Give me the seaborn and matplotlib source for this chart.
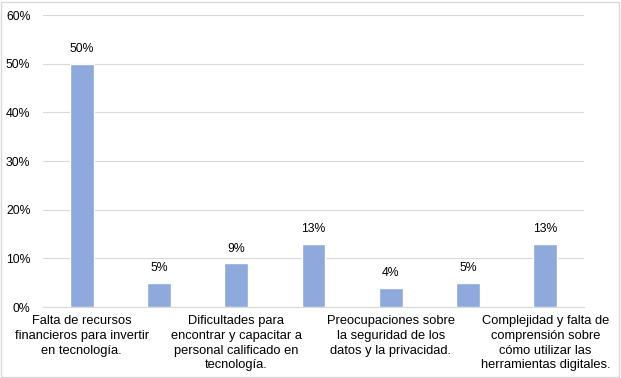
import matplotlib
matplotlib.use("Agg")
import matplotlib.pyplot as plt
import seaborn as sns
import pandas as pd
from matplotlib.patches import Rectangle

categories = [
    "Falta de recursos\nfinancieros para invertir\nen tecnología.",
    "",
    "Dificultades para\nencontrar y capacitar a\npersonal calificado en\ntecnología.",
    " ",
    "Preocupaciones sobre\nla seguridad de los\ndatos y la privacidad.",
    "  ",
    "Complejidad y falta de\ncomprensión sobre\ncómo utilizar las\nherramientas digitales.",
]
values = [50, 5, 9, 13, 4, 5, 13]
yticks = [0, 10, 20, 30, 40, 50, 60]

sns.set_theme(style="white")
plt.rcParams["font.family"] = ["Liberation Sans", "DejaVu Sans"]

df = pd.DataFrame({"cat": categories, "val": values})

fig = plt.figure(figsize=(6.21, 3.78), dpi=100)
ax = fig.add_axes([43/621, 1-307/378, (584-43)/621, (307-15)/378])

sns.barplot(data=df, x="cat", y="val", color="#8EA9DB", width=0.31,
            saturation=1, ax=ax, order=categories)

ax.set_ylim(0, 60)
ax.set_xlim(-0.5, len(categories)-0.5)
ax.set_yticks(yticks)
ax.set_yticklabels([f"{t}%" for t in yticks], fontsize=8.8, color="#000000")
ax.yaxis.grid(True, color="#D9D9D9", linewidth=0.8)
ax.set_axisbelow(True)
for s in ["top", "right", "left"]:
    ax.spines[s].set_visible(False)
ax.spines["bottom"].set_color("#D9D9D9")
ax.spines["bottom"].set_linewidth(0.8)
ax.tick_params(axis="y", length=0, pad=9)
ax.tick_params(axis="x", length=0, pad=6)
ax.set_xticks(range(len(categories)))
ax.set_xticklabels(categories, fontsize=9.3, color="#000000", linespacing=1.3)
ax.set_xlabel("")
ax.set_ylabel("")

for c in ax.containers:
    ax.bar_label(c, labels=[f"{v}%" for v in values], padding=6, fontsize=8.8, color="#000000")

fig.patches.append(Rectangle((0.002, 0.003), 0.994, 0.993, transform=fig.transFigure,
                             fill=False, edgecolor="#D9D9D9", linewidth=1))

fig.savefig("out.png", dpi=100)
